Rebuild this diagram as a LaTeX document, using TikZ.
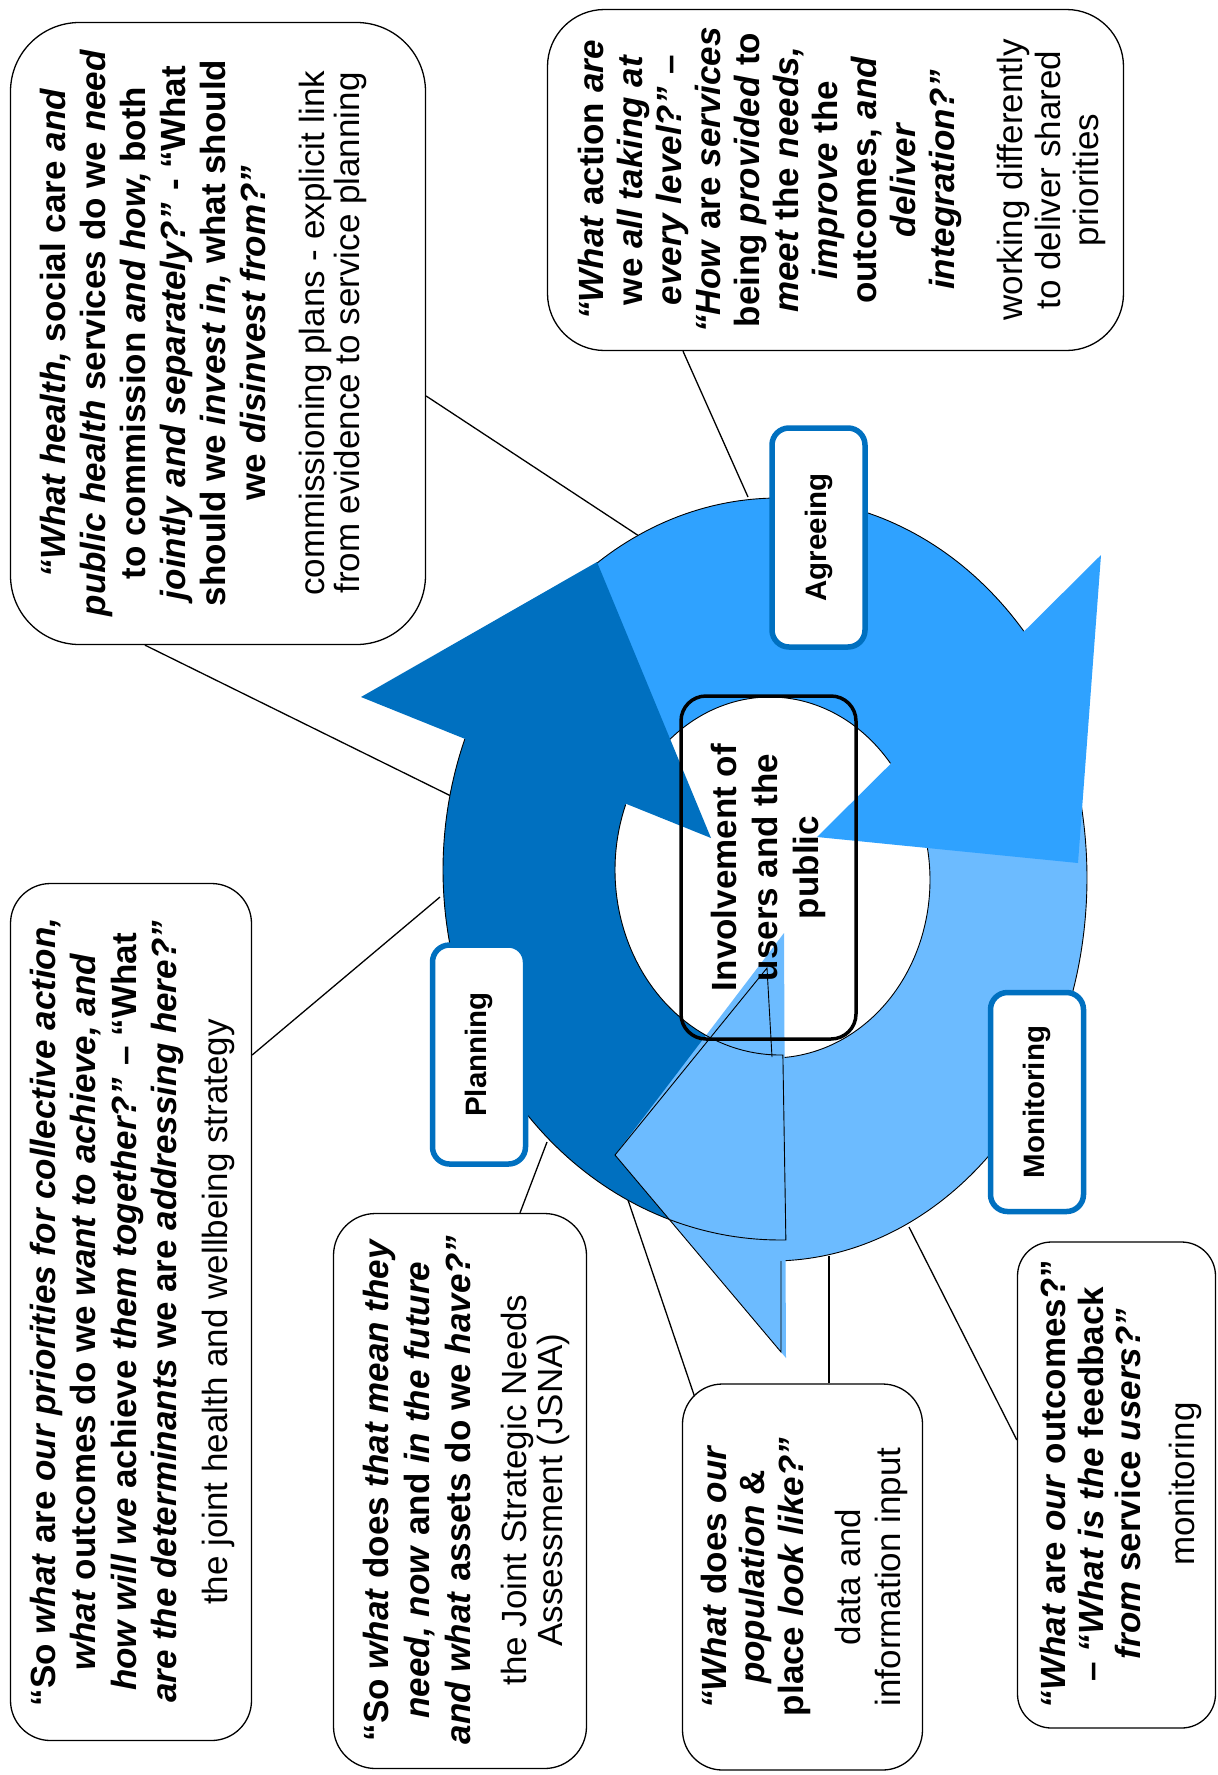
\documentclass[tikz,border=0pt]{standalone}
\usepackage{fontspec}
\setmainfont{Liberation Sans}
\definecolor{cdark}{HTML}{0070C0}
\definecolor{cmid}{HTML}{2FA2FF}
\definecolor{clight}{HTML}{6CBBFF}
\begin{document}
\begin{tikzpicture}[x=1pt,y=-1pt,
  tbox/.style={draw=black,line width=1.3pt,fill=white,inner sep=0pt},
  lbox/.style={draw=cdark,line width=5.5pt,fill=white,rounded corners=17pt,minimum width=219pt,minimum height=93pt,inner sep=0pt,rotate=90,font=\fontsize{29.5pt}{35pt}\selectfont\bfseries},
  qtxt/.style={rotate=90,align=center,inner sep=0pt,font=\fontsize{35pt}{#1}\selectfont\bfseries},
  dtxt/.style={rotate=90,align=center,inner sep=0pt,font=\fontsize{35pt}{#1}\selectfont},
  conn/.style={line width=1.3pt,draw=black},
  rim/.style={line width=0.9pt,draw=black}]
\useasboundingbox (0,0) rectangle (1218,1775);
\fill[white] (0,0) rectangle (1218,1775);

% text boxes
\node[tbox,rounded corners=69pt,minimum width=415pt,minimum height=622pt] (b1) at (218,333.5) {};
\node[tbox,rounded corners=57pt,minimum width=576pt,minimum height=341pt] (b2) at (835.5,180) {};
\node[tbox,rounded corners=40pt,minimum width=241pt,minimum height=857pt] (b3) at (131,1312) {};
\node[tbox,rounded corners=42pt,minimum width=253pt,minimum height=555pt] (b4) at (460,1491) {};
\node[tbox,rounded corners=40pt,minimum width=240pt,minimum height=386pt] (b5) at (802.5,1577) {};
\node[tbox,rounded corners=34pt,minimum width=198pt,minimum height=486pt] (b6) at (1116.5,1485) {};

% ring anchor points for connectors
\coordinate (r1) at (642,538);
\coordinate (r2) at (453,797);
\coordinate (r3) at (440,897);
\coordinate (r4) at (547,1142);
\coordinate (r5) at (628,1200);
\coordinate (r6) at (829,1256);
\coordinate (r7) at (909,1227);
\coordinate (r8) at (748,497);

% connectors
\draw[conn] ([yshift=-62.5pt]b1.east) -- (r1);
\draw[conn] ([xshift=-73pt]b1.south) -- (r2);
\draw[conn] ([yshift=257pt]b3.east) -- (r3);
\draw[conn] ([xshift=60pt]b4.north) -- (r4);
\draw[conn] ([xshift=-108pt,yshift=-13pt]b5.north) -- (r5);
\draw[conn] ([xshift=26.5pt]b5.north) -- (r6);
\draw[conn] ([yshift=45pt]b6.west) -- (r7);
\draw[conn] ([xshift=-152.5pt]b2.south) -- (r8);

% medium (Agreeing) body
\fill[cmid] plot[domain=-150:-37,samples=90] ({778+322*cos(\x)},{874+376*sin(\x)})
  -- plot[domain=-36:-150,samples=90] ({770+155*cos(\x)},{876+179*sin(\x)}) -- cycle;
\draw[rim] plot[domain=-150:-40.22,samples=90] ({778+322*cos(\x)},{874+376*sin(\x)});
\draw[rim] plot[domain=-150:-39,samples=90] ({770+155*cos(\x)},{876+179*sin(\x)});
% light (Monitoring) body
\fill[clight] plot[domain=-15:92,samples=90] ({772+315*cos(\x)},{878+383*sin(\x)})
  -- plot[domain=90:-15,samples=90] ({772+158*cos(\x)},{880+178*sin(\x)}) -- cycle;
\draw[rim] plot[domain=-15:88,samples=90] ({772+315*cos(\x)},{878+383*sin(\x)});
\draw[rim] plot[domain=-15:86,samples=90] ({772+158*cos(\x)},{880+178*sin(\x)});
% dark (Planning) body
\fill[cdark] plot[domain=89:203.5,samples=90] ({780+337*cos(\x)},{870+370*sin(\x)})
  -- plot[domain=203.5:89,samples=90] ({780+165*cos(\x)},{870+185*sin(\x)}) -- cycle;
% arrowheads
\fill[cdark] (361,697) -- (597,562) -- (711,838) -- cycle;
\fill[cmid] (1101,555) -- (817,837) -- (1078,863) -- cycle;
\fill[clight] (784,933) -- (615,1155) -- (786,1358) -- cycle;
% outlines on top
\draw[rim] plot[domain=200.7:89,samples=90] ({780+337*cos(\x)},{870+370*sin(\x)})
  -- plot[domain=89:200.7,samples=90] ({780+165*cos(\x)},{870+185*sin(\x)});
\draw[rim] (772,1057) -- (767,968) -- (615,1155) -- (781,1352) -- (781,1261);

% centre box
\node[draw=black,line width=3.5pt,rounded corners=25pt,rotate=90,minimum width=343pt,minimum height=175pt,inner sep=0pt,align=center,font=\fontsize{35pt}{41pt}\selectfont\bfseries] (ctr) at (768.5,867.5) {Involvement of\\users and the\\public};

% stage labels
\node[lbox] (agree) at (818.5,537.5) {Agreeing};
\node[lbox] (plan) at (479,1054.5) {Planning};
\node[lbox] (mon) at (1037,1102) {Monitoring};

% texts
\node[qtxt=40pt] (q1) at (153,333) {\textit{“What health,} social care \textit{and}\\ \textit{public health} services do we \textit{need}\\ to commission \textit{and how,} both\\ \textit{jointly and separately?”} - “What\\ should we \textit{invest in,} what should\\ we \textit{disinvest from?”}};
\node[dtxt=35pt] (d1) at (333,333) {commissioning plans - explicit link\\from evidence to service planning};

\node[qtxt=39pt] (q2) at (770,180) {\textit{“What} action \textit{are}\\ we \textit{all taking at}\\ \textit{every level?”} –\\ \textit{“How} are \textit{services}\\ being \textit{provided} to\\ \textit{meet} the \textit{needs,}\\ \textit{improve} the\\ outcomes, \textit{and}\\ \textit{deliver}\\ \textit{integration?”}};
\node[dtxt=38pt] (d2) at (1051,180) {working differently\\to deliver shared\\priorities};

\node[qtxt=40.5pt] (q3) at (107,1312) {“So \textit{what} are \textit{our priorities for collective action,}\\ \textit{what} outcomes do we \textit{want to achieve, and}\\ \textit{how will we} achieve \textit{them together?”} – “What\\ \textit{are the determinants} we are \textit{addressing here?”}};
\node[dtxt=38pt] (d3) at (218,1312) {the joint health and wellbeing strategy};

\node[qtxt=41pt] (q4) at (417,1490) {“So \textit{what} does \textit{that mean they}\\ \textit{need, now} and \textit{in the future}\\ \textit{and what} assets do we \textit{have?”}};
\node[dtxt=36pt] (d4) at (535,1490) {the Joint Strategic Needs\\Assessment (JSNA)};

\node[qtxt=38.5pt] (q5) at (755.5,1577) {\textit{“What} does \textit{our}\\ \textit{population} \&\\ place \textit{look like?”}};
\node[dtxt=40pt] (d5) at (871,1577) {data and\\information input};

\node[qtxt=37.5pt] (q6) at (1090.5,1484) {\textit{“What} are \textit{our} outcomes?”\\ – \textit{“What is the} feedback\\ \textit{from} service \textit{users?”}};
\node[dtxt=38pt] (d6) at (1185,1484) {monitoring};
\end{tikzpicture}
\end{document}
